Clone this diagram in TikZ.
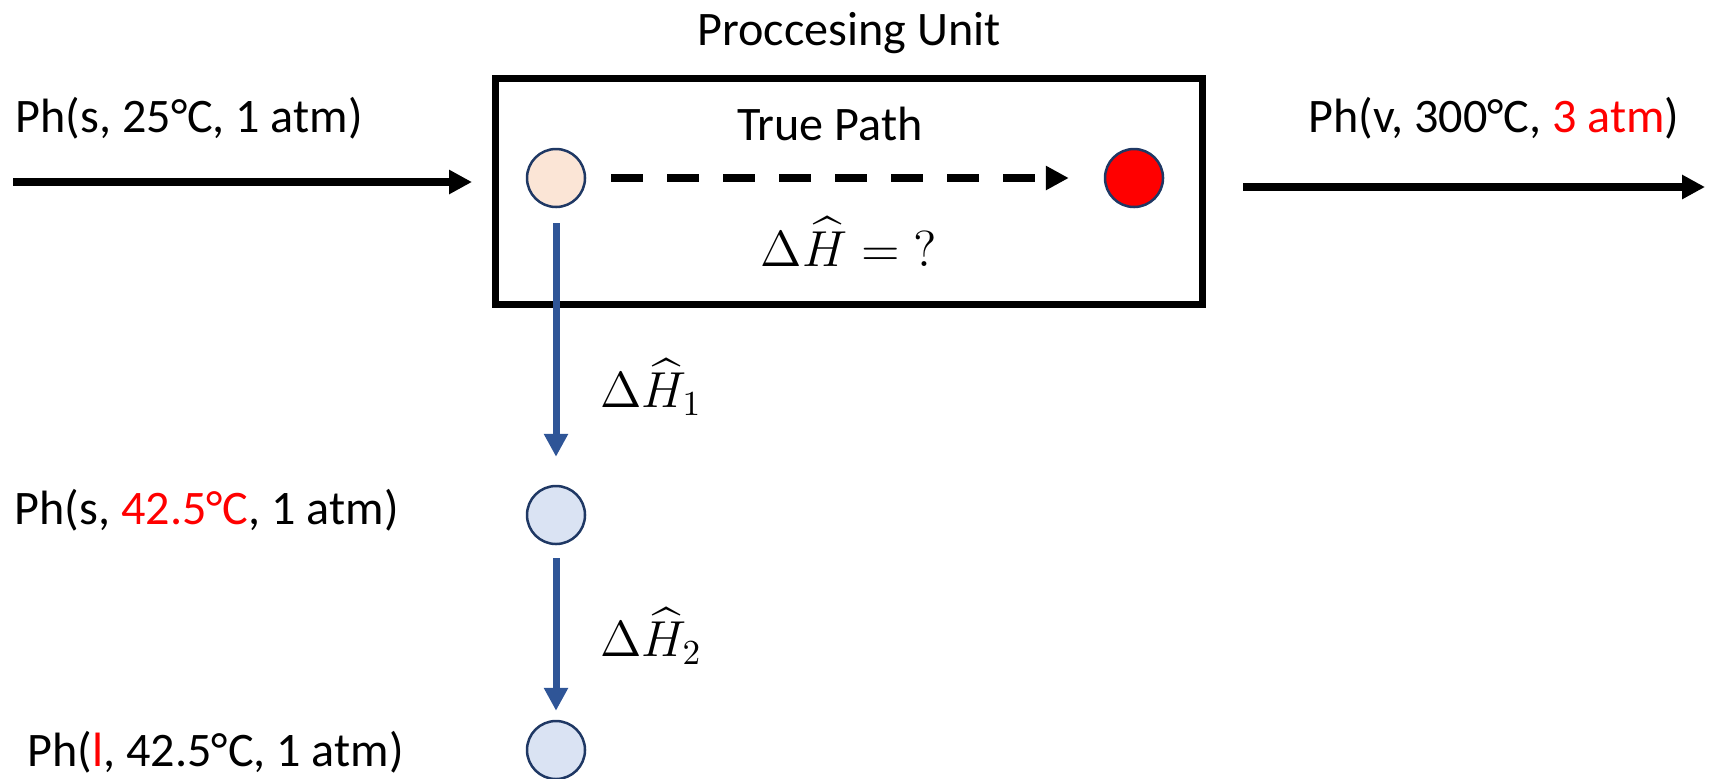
\documentclass[tikz,border=0pt]{standalone}
\usepackage{amsmath}
\usepackage{fontspec}
\setmainfont{Carlito}
\usetikzlibrary{arrows.meta, positioning}
\definecolor{flowblue}{RGB}{47,85,151}
\definecolor{rimcolor}{RGB}{31,56,100}
\definecolor{peach}{RGB}{251,229,214}
\definecolor{paleblue}{RGB}{218,227,243}

\begin{document}
\begin{tikzpicture}[
    font=\fontsize{13.7}{16}\selectfont,
    unitbox/.style={rectangle, draw, line width=0.7mm, minimum width=7.07cm, minimum height=2.26cm, inner sep=0pt},
    state/.style={circle, draw=rimcolor, line width=0.25mm, minimum size=0.58cm, inner sep=0pt},
    stream/.style={-{Triangle[length=0.23cm, width=0.23cm]}, line width=0.75mm},
    stage/.style={-{Triangle[length=0.23cm, width=0.23cm]}, line width=0.7mm, draw=flowblue},
    streamtext/.style={anchor=west, inner sep=0pt}
]
\useasboundingbox (0,0) rectangle (17.10,7.78);

\node[unitbox] (unit) at (8.49,5.865) {};
\node (unittitle) at (8.49,7.45) {Proccesing Unit};
\node (truepath) at (8.30,6.54) {True Path};
\node (dh) at (8.49,5.36) {$\Delta\widehat{H} = \mathord{?}$};

\node[state, fill=peach] (s0) at (5.56,6.00) {};
\node[state, fill=red] (s1) at (11.34,6.00) {};
\node[state, fill=paleblue] (s2) at (5.56,2.63) {};
\node[state, fill=paleblue] (s3) at (5.56,0.28) {};

\coordinate (feed) at (0.13,5.96);
\coordinate (prod) at (17.05,5.91);
\node[streamtext] (feedtext) at (0.15,6.60) {Ph(s, 25°C, 1 atm)};
\node[streamtext] (prodtext) at (13.08,6.60) {Ph(v, 300°C, \textcolor{red}{3 atm})};
\node[streamtext] (s2text) at (0.14,2.68) {Ph(s, \textcolor{red}{42.5°C}, 1 atm)};
\node[streamtext] (s3text) at (0.27,0.26) {Ph(\textcolor{red}{l}, 42.5°C, 1 atm)};

\node (dh1) at (6.51,3.91) {$\Delta\widehat{H}_1$};
\node (dh2) at (6.51,1.42) {$\Delta\widehat{H}_2$};

\draw[stream, shorten >=0.2cm] (feed) -- (feed -| unit.west);
\draw[stream, shorten <=0.37cm] (unit.east |- prod) -- (prod);
\draw[stream, dash pattern=on 0.32cm off 0.24cm, shorten <=0.25cm, shorten >=0.35cm] (s0) -- (s1);
\draw[stage, shorten <=0.15cm, shorten >=0.28cm] (s0) -- (s2);
\draw[stage, shorten <=0.13cm, shorten >=0.09cm] (s2) -- (s3);

\end{tikzpicture}
\end{document}
